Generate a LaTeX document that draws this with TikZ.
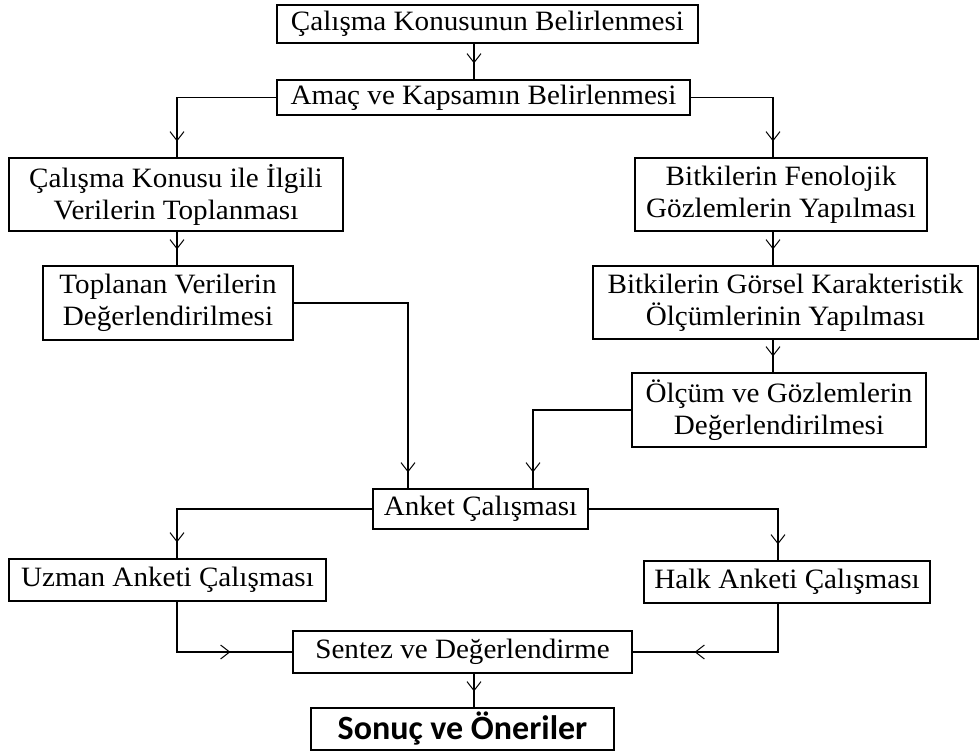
\documentclass[tikz,border=0pt]{standalone}
\usepackage{fontspec}
\setmainfont{Liberation Serif}[FakeStretch=1.04]
\newfontfamily\resultfont{Carlito}
\usepackage{tikz}
\usetikzlibrary{arrows.meta, positioning, calc, decorations.markings}
\tikzset{
  flowblock/.style={
    rectangle, draw, line width=1.2pt, inner sep=0pt, align=center,
    font=\fontsize{28pt}{32pt}\selectfont
  },
  resultblock/.style={
    flowblock, font=\resultfont\bfseries\fontsize{34pt}{40pt}\selectfont
  },
  flowarrow/.style={
    line width=1.2pt, postaction={decorate},
    decoration={markings, mark=at position -16pt with {\arrow{Straight Barb[length=9pt, width=14pt, line width=1pt]}}}
  },
  midarrow/.style={
    line width=1.2pt, postaction={decorate},
    decoration={markings, mark=at position -62pt with {\arrow{Straight Barb[length=9pt, width=14pt, line width=1pt]}}}
  }
}
\begin{document}
\begin{tikzpicture}[x=1pt, y=-1pt]
  \useasboundingbox (0,0) rectangle (980,751);
  \coordinate (midCol) at (474,0);
  \coordinate (leftCol) at (177,0);
  \coordinate (rightCol) at (773,0);
  \coordinate (dataCol) at (408,0);
  \coordinate (measCol) at (533,0);
  \coordinate (publicCol) at (778,0);

  \node[flowblock, minimum width=421pt, minimum height=38pt] (topic) at (487.5,24) {Çalışma Konusunun Belirlenmesi};
  \node[flowblock, minimum width=413pt, minimum height=35pt] (scope) at (483.5,97.5) {Amaç ve Kapsamın Belirlenmesi};
  \node[flowblock, minimum width=334pt, minimum height=73pt] (collect) at (176,194.5) {Çalışma Konusu ile İlgili\\Verilerin Toplanması};
  \node[flowblock, minimum width=250pt, minimum height=74pt] (evalData) at (168,303) {Toplanan Verilerin\\Değerlendirilmesi};
  \node[flowblock, minimum width=292pt, minimum height=73pt] (pheno) at (781,194.5) {Bitkilerin Fenolojik\\Gözlemlerin Yapılması};
  \node[flowblock, minimum width=385pt, minimum height=73pt] (visual) at (785.5,302.5) {Bitkilerin Görsel Karakteristik\\Ölçümlerinin Yapılması};
  \node[flowblock, minimum width=294pt, minimum height=74pt] (evalMeas) at (779,410) {Ölçüm ve Gözlemlerin\\Değerlendirilmesi};
  \node[flowblock, minimum width=215pt, minimum height=40pt] (survey) at (480.5,509) {Anket Çalışması};
  \node[flowblock, minimum width=317pt, minimum height=42pt] (expert) at (167.5,580) {Uzman Anketi Çalışması};
  \node[flowblock, minimum width=286pt, minimum height=42pt] (public) at (787,582) {Halk Anketi Çalışması};
  \node[flowblock, minimum width=339pt, minimum height=42pt] (synth) at (462.5,652) {Sentez ve Değerlendirme};
  \node[resultblock, minimum width=303pt, minimum height=42pt] (result) at (462.5,729) {Sonuç ve Öneriler};

  \draw[flowarrow] (midCol |- topic.south) -- (midCol |- scope.north);
  \draw[flowarrow] (scope.west) -| (leftCol |- collect.north);
  \draw[flowarrow] (scope.east) -| (rightCol |- pheno.north);
  \draw[flowarrow] (leftCol |- collect.south) -- (leftCol |- evalData.north);
  \draw[flowarrow] (rightCol |- pheno.south) -- (rightCol |- visual.north);
  \draw[flowarrow] (rightCol |- visual.south) -- (rightCol |- evalMeas.north);
  \draw[flowarrow] (evalData.east) -| (dataCol |- survey.north);
  \draw[flowarrow] (evalMeas.west) -| (measCol |- survey.north);
  \draw[flowarrow] (survey.west) -| (leftCol |- expert.north);
  \draw[flowarrow] (survey.east) -| (publicCol |- public.north);
  \draw[midarrow] (leftCol |- expert.south) |- (synth.west);
  \draw[midarrow] (publicCol |- public.south) |- (synth.east);
  \draw[flowarrow] (midCol |- synth.south) -- (midCol |- result.north);
\end{tikzpicture}
\end{document}
